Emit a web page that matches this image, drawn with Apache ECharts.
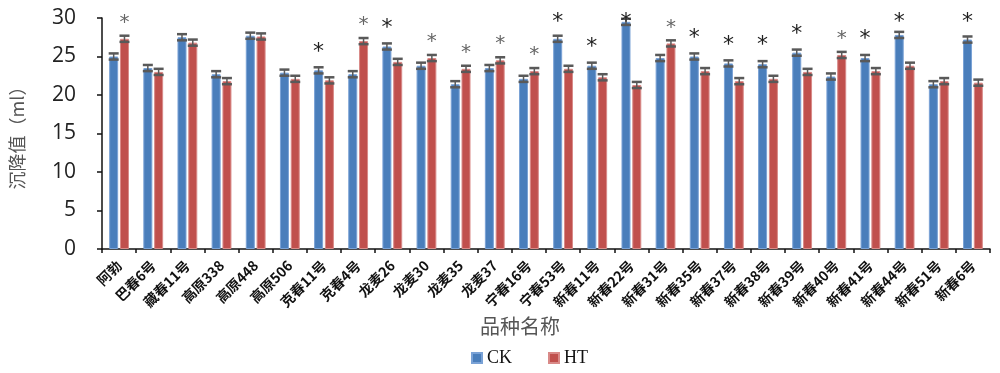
<!DOCTYPE html>
<html><head><meta charset="utf-8">
<script src="https://cdn.jsdelivr.net/npm/echarts@6/dist/echarts.min.js"></script>
<style>html,body{margin:0;padding:0;background:#fff}#c{width:1000px;height:373px}</style>
</head><body><div id="c"></div>
<script>
var categories = ['阿勃','巴春6号','藏春11号','高原338','高原448','高原506','克春11号','克春4号','龙麦26','龙麦30','龙麦35','龙麦37','宁春16号','宁春53号','新春11号','新春22号','新春31号','新春35号','新春37号','新春38号','新春39号','新春40号','新春41号','新春44号','新春51号','新春6号'];
var ckValues = [25.0,23.5,27.5,22.7,27.7,22.9,23.2,22.7,26.3,23.8,21.4,23.5,22.1,27.3,23.8,29.5,24.8,25.0,24.1,24.0,25.5,22.4,24.8,27.8,21.4,27.2];
var htValues = [27.3,23.0,26.8,21.8,27.6,22.1,21.9,27.0,24.3,24.8,23.4,24.5,23.1,23.4,22.3,21.3,26.7,23.1,21.8,22.1,23.0,25.2,23.1,23.8,21.8,21.6];
var ckErr = [0.4,0.4,0.4,0.4,0.4,0.4,0.4,0.4,0.4,0.4,0.4,0.4,0.4,0.4,0.4,0.4,0.4,0.4,0.4,0.4,0.4,0.4,0.4,0.4,0.4,0.4];
var htErr = [0.4,0.4,0.4,0.4,0.4,0.4,0.4,0.4,0.4,0.4,0.4,0.4,0.4,0.4,0.4,0.4,0.4,0.4,0.4,0.4,0.4,0.4,0.4,0.4,0.4,0.4];
var ckSig = [0,0,0,0,0,0,1,0,1,0,0,0,0,1,1,1,0,1,1,1,1,0,1,1,0,1];
var htSig = [1,0,0,0,0,0,0,1,0,1,1,1,1,0,0,0,1,0,0,0,0,1,0,0,0,0];
var yTicks = [0,5,10,15,20,25,30];

function errData(vals, errs, sig){
  return vals.map(function(v,i){ return [i, v, errs[i], sig[i]]; });
}
function makeRender(offset, isCk){
  return function(params, api){
    var i = api.value(0), v = api.value(1), e = api.value(2), s = api.value(3);
    var hi = api.coord([i, v + e]);
    var lo = api.coord([i, v - e]);
    var x = hi[0] + offset;
    var hw = 5;
    var st = {stroke:'#595959', lineWidth:2.5};
    var children = [
      {type:'line', shape:{x1:x, y1:hi[1], x2:x, y2:lo[1]}, style:{stroke:'#595959', lineWidth:1.5}},
      {type:'line', shape:{x1:x-hw, y1:hi[1], x2:x+hw, y2:hi[1]}, style:st},
      {type:'line', shape:{x1:x-hw, y1:lo[1], x2:x+hw, y2:lo[1]}, style:st}
    ];
    if (s) {
      var fs = isCk ? 22 : 20;
      var cy = Math.max(hi[1] - (isCk ? 22 : 19), 16);
      children.push({type:'text', style:{text:'*', x:x, y:cy + fs*0.3, align:'center', verticalAlign:'middle',
        fontSize: fs, fontFamily:'DejaVu Sans', fill: isCk?'#222':'#666'}});
    }
    return {type:'group', children:children};
  };
}

var chart = echarts.init(document.getElementById('c'), null, {renderer:'canvas'});
chart.setOption({
  animation:false,
  grid:{left:100, right:10, top:18, bottom:124},
  legend:{data:['CK','HT'], left:466, top:344, itemWidth:10, itemHeight:10, itemGap:36, icon:'rect',
    textStyle:{fontFamily:'Liberation Serif', fontSize:18, color:'#111'}},
  xAxis:{type:'category', data:categories,
    axisLine:{lineStyle:{color:'#111', width:1.5}},
    axisTick:{show:true, length:4, lineStyle:{color:'#111', width:1.5}},
    axisLabel:{rotate:45, interval:0, fontSize:14, fontWeight:'bold', color:'#111', fontFamily:'Noto Sans CJK SC', margin:14},
    name:'品种名称', nameLocation:'middle', nameGap:64,
    nameTextStyle:{fontSize:20, color:'#555', fontFamily:'Noto Sans CJK SC', padding:[0,52,0,0]}},
  yAxis:{type:'value', min:0, max:30, interval:5,
    axisLine:{show:true, lineStyle:{color:'#111', width:1.5}},
    axisTick:{show:true, inside:false, length:5, lineStyle:{color:'#111', width:1.5}},
    splitLine:{show:false},
    axisLabel:{fontSize:21, color:'#222', fontFamily:'Open Sans', margin:26,
      formatter:function(v){ return yTicks.indexOf(v) >= 0 ? String(v) : ''; }},
    name:'沉降值（ml）', nameLocation:'middle', nameGap:76, nameRotate:90,
    nameTextStyle:{fontSize:18, color:'#555', fontFamily:'Noto Sans CJK SC'}},
  series:[
    {name:'CK', type:'bar', data:ckValues, barWidth:9, barGap:'20%', barCategoryGap:'40%',
      itemStyle:{color:'#4a7ebb', borderColor:'#7aa2d6', borderWidth:1}},
    {name:'HT', type:'bar', data:htValues, barWidth:9,
      itemStyle:{color:'#c0504d', borderColor:'#d98a88', borderWidth:1}},
    {type:'custom', data:errData(ckValues, ckErr, ckSig), renderItem:makeRender(-5.4, true), z:5},
    {type:'custom', data:errData(htValues, htErr, htSig), renderItem:makeRender(5.4, false), z:5}
  ]
});
</script></body></html>
